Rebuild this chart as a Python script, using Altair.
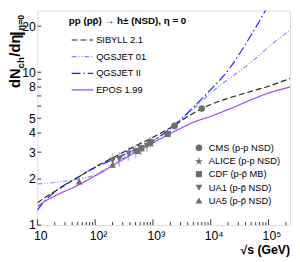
import altair as alt
import pandas as pd

# ---------------- model curves (sqrt(s) in GeV, dNch/deta) ----------------
energy = [10, 13, 20, 50, 100, 200, 500, 1000, 2360, 5000, 10000, 20000, 50000, 100000, 236000]
sibyll = [1.40, 1.50, 1.66, 2.05, 2.40, 2.75, 3.30, 3.75, 4.50, 5.40, 6.15, 6.75, 7.50, 8.10, 9.10]
qgsjet01 = [1.86, 1.87, 1.90, 2.00, 2.13, 2.50, 3.05, 3.55, 4.55, 5.75, 7.30, 9.00, 11.6, 14.6, 18.9]
qgsjet2 = [1.25, 1.42, 1.65, 2.05, 2.38, 2.68, 3.12, 3.55, 4.50, 5.90, 7.70, 10.3, 17.5, 27.5, 50.0]
epos = [1.32, 1.42, 1.55, 1.82, 2.10, 2.44, 3.00, 3.45, 4.10, 4.70, 5.15, 5.70, 6.60, 7.30, 8.00]

model_names = ["SIBYLL 2.1", "QGSJET 01", "QGSJET II", "EPOS 1.99"]
model_values = [sibyll, qgsjet01, qgsjet2, epos]
model_colors = ["#222222", "#8a8aff", "#1f1fff", "#a347f5"]
model_dashes = [[6, 3], [5, 2, 1, 2, 1, 2], [9, 3, 1.5, 3], [1, 0]]

# ---------------- measurements ----------------
cms_e = [900, 2360, 7000]
cms_v = [3.48, 4.47, 5.78]
cms_err = [0.13, 0.17, 0.15]
alice_e = [900, 2360]
alice_v = [3.51, 4.43]
alice_err = [0.15, 0.3]
cdf_e = [630, 1800]
cdf_v = [3.18, 3.95]
cdf_err = [0.15, 0.15]
ua1_e = [200, 260, 380, 500, 620, 790, 900]
ua1_v = [2.65, 2.71, 2.94, 3.05, 3.17, 3.30, 3.48]
ua1_err = [0.3, 0.3, 0.3, 0.3, 0.3, 0.3, 0.3]
ua5_e = [53, 200, 546, 900]
ua5_v = [1.93, 2.48, 3.05, 3.43]
ua5_err = [0.1, 0.1, 0.1, 0.13]

STAR = ("M0,-1L0.224,-0.309L0.951,-0.309L0.363,0.118L0.588,0.809L0,0.382"
        "L-0.588,0.809L-0.363,0.118L-0.951,-0.309L-0.224,-0.309Z")
exp_names = ["CMS (p-p NSD)", "ALICE (p-p NSD)", "CDF (p-p\u0304 MB)",
             "UA1 (p-p\u0304 NSD)", "UA5 (p-p\u0304 NSD)"]
exp_data = [(cms_e, cms_v, cms_err), (alice_e, alice_v, alice_err),
            (cdf_e, cdf_v, cdf_err), (ua1_e, ua1_v, ua1_err), (ua5_e, ua5_v, ua5_err)]
exp_shapes = ["circle", STAR, "square", "triangle-down", "triangle-up"]
exp_sizes = [45, 70, 40, 50, 50]

# axis labels
x_tick_values = [10, 100, 1000, 10000, 100000]
x_tick_labels = ["10", "10\u00b2", "10\u00b3", "10\u2074", "10\u2075"]
y_tick_values = [1, 2, 3, 4, 5, 8, 10, 20]

FONT = "Liberation Sans"
GRAY = "#6e6e6e"

xscale = alt.Scale(type="log", domain=[10, 236000], nice=False)
yscale = alt.Scale(type="log", domain=[1, 25.3], nice=False)

label_expr = " : ".join(
    f"datum.value == {v} ? '{l}'" for v, l in zip(x_tick_values[:-1], x_tick_labels[:-1])
) + f" : '{x_tick_labels[-1]}'"

xaxis = alt.Axis(values=x_tick_values, labelExpr=label_expr, tickSize=0, domain=False,
                 grid=False, title=None, labelFont=FONT, labelFontSize=12.5,
                 labelColor="black", labelPadding=5, labelFlush=False, labelOverlap=False,
                 labelOffset=3)
yaxis = alt.Axis(values=y_tick_values, format="~g", tickSize=0, domain=False, grid=False,
                 title=None, labelFont=FONT, labelFontSize=12.5, labelColor="black",
                 labelPadding=2, labelOverlap=False, labelFlush=False)

xenc = alt.X("e:Q", scale=xscale, axis=xaxis)
yenc = alt.Y("v:Q", scale=yscale, axis=yaxis)

H = 219
W = 258
layers = []

# ---- inward ticks ----
x_major = x_tick_values
x_minor = [m * d for d in [10, 100, 1000, 10000, 100000] for m in range(2, 10) if m * d <= 236000]
y_ticks = [1, 2, 3, 4, 5, 6, 7, 8, 9, 10, 20]

layers.append(alt.Chart(pd.DataFrame({"e": x_major})).mark_rule(color="#333", strokeWidth=1)
              .encode(x=xenc, y=alt.value(H), y2=alt.value(H - 6)))
layers.append(alt.Chart(pd.DataFrame({"e": x_minor})).mark_rule(color="#333", strokeWidth=1)
              .encode(x=xenc, y=alt.value(H), y2=alt.value(H - 3)))
layers.append(alt.Chart(pd.DataFrame({"v": y_ticks})).mark_rule(color="#333", strokeWidth=1)
              .encode(y=yenc, x=alt.value(0), x2=alt.value(4)))

# ---- error bars ----
for (es, vs, errs) in exp_data:
    df = pd.DataFrame({"e": es, "lo": [v - r for v, r in zip(vs, errs)],
                       "hi": [v + r for v, r in zip(vs, errs)]})
    layers.append(alt.Chart(df).mark_rule(color="#c4c4c4", strokeWidth=1.6)
                  .encode(x=xenc, y=alt.Y("lo:Q", scale=yscale, axis=yaxis), y2="hi:Q"))

# ---- model lines ----
for name, vals, col, dash in zip(model_names, model_values, model_colors, model_dashes):
    df = pd.DataFrame({"e": energy, "v": vals})
    layers.append(alt.Chart(df).mark_line(color=col, strokeWidth=1.2, strokeDash=dash,
                                          clip=True, interpolate="monotone")
                  .encode(x=xenc, y=yenc))

# ---- data points ----
for (es, vs, errs), shp, sz in zip(exp_data, exp_shapes, exp_sizes):
    df = pd.DataFrame({"e": es, "v": vs})
    layers.append(alt.Chart(df).mark_point(shape=shp, size=sz, filled=True, color=GRAY,
                                           opacity=1)
                  .encode(x=xenc, y=yenc))

# ---- model legend ----
leg_y = [30, 47, 64, 81]
for name, col, dash, yy in zip(model_names, model_colors, model_dashes, leg_y):
    df = pd.DataFrame({"label": [name]})
    layers.append(alt.Chart(df).mark_rule(color=col, strokeWidth=1.2, strokeDash=dash)
                  .encode(x=alt.value(35), x2=alt.value(57), y=alt.value(yy)))
    layers.append(alt.Chart(df).mark_text(align="left", baseline="middle", font=FONT,
                                          fontSize=9.5, color="black")
                  .encode(x=alt.value(60), y=alt.value(yy), text="label:N"))

title_txt = "pp (pp\u0304) \u2192 h\u00b1 (NSD), \u03b7 = 0"
layers.append(alt.Chart(pd.DataFrame({"label": [title_txt]}))
              .mark_text(align="left", baseline="middle", font=FONT, fontSize=10,
                         fontWeight="bold", color="black")
              .encode(x=alt.value(32), y=alt.value(11), text="label:N"))

# ---- experiment legend ----
exp_leg_y = [140, 154, 167, 181, 194]
for name, shp, sz, yy in zip(exp_names, exp_shapes, exp_sizes, exp_leg_y):
    df = pd.DataFrame({"label": [name]})
    layers.append(alt.Chart(df).mark_point(shape=shp, size=sz, filled=True, color=GRAY,
                                           opacity=1)
                  .encode(x=alt.value(165), y=alt.value(yy)))
    layers.append(alt.Chart(df).mark_text(align="left", baseline="middle", font=FONT,
                                          fontSize=9.5, color="black")
                  .encode(x=alt.value(175), y=alt.value(yy), text="label:N"))

# ---- axis titles ----
layers.append(alt.Chart(pd.DataFrame({"label": ["\u221as (GeV)"]}))
              .mark_text(align="right", baseline="alphabetic", font=FONT, fontSize=12.5,
                         fontWeight="bold", color="black")
              .encode(x=alt.value(W), y=alt.value(248.5), text="label:N"))

ytitle_parts = [("dN", 15, 79, -17.5), ("ch", 10, 59, -14), ("/d\u03b7", 15, 47, -17.5),
                ("|", 17, 26, -16), ("\u03b7=0", 9, 20, -14)]
for txt, fs, yy, xx in ytitle_parts:
    layers.append(alt.Chart(pd.DataFrame({"label": [txt]}))
                  .mark_text(align="left", baseline="alphabetic", angle=270, font=FONT,
                             fontSize=fs, fontWeight="bold", color="black")
                  .encode(x=alt.value(xx), y=alt.value(yy), text="label:N"))

chart = (alt.layer(*layers)
         .properties(width=W, height=H,
                     padding={"left": 30, "top": 0, "right": 2, "bottom": 34},
                     autosize=alt.AutoSizeParams(type="none"))
         .configure_view(stroke="#333", strokeWidth=1)
         .configure(font=FONT))

chart.save("out.html", embed_options={"renderer": "svg", "actions": False})
